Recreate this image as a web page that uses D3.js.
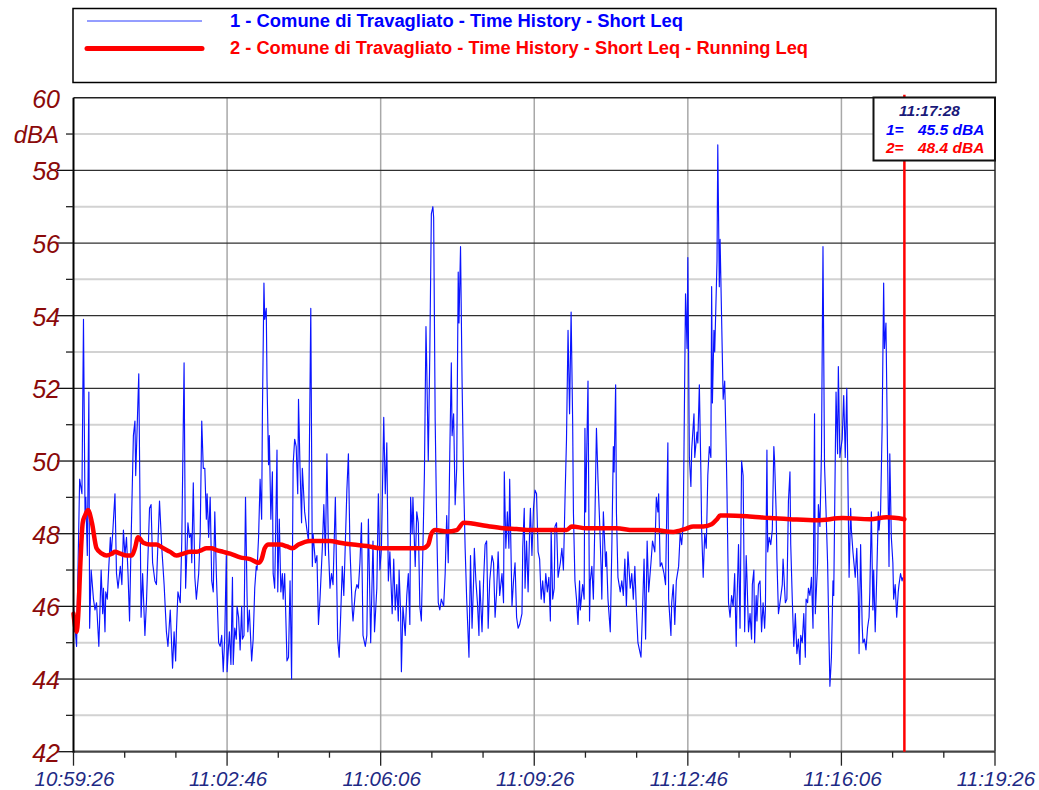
<!DOCTYPE html>
<html><head><meta charset="utf-8">
<script src="https://cdn.jsdelivr.net/npm/d3@7"></script>
<style>body{margin:0;background:#fff;} svg{display:block;}</style>
</head><body>
<script>
// ---------- DATA ----------
const xTickLabels = ["10:59:26","11:02:46","11:06:06","11:09:26","11:12:46","11:16:06","11:19:26"];
const xTickSeconds = [0,200,400,600,800,1000,1200];
const yTickValues = [42,44,46,48,50,52,54,56,58,60];
const yUnit = "dBA";
const seriesNames = [
  "1 - Comune di Travagliato  - Time History - Short Leq",
  "2 - Comune di Travagliato  - Time History - Short Leq - Running Leq"
];
const cursorLabel = "11:17:28";
const cursorSeconds = 1082;
const cursorValues = ["45.5 dBA","48.4 dBA"];

// [seconds since 10:59:26, dBA]
const shortLeq = [
[0,46.0],[4,44.9],[8,49.5],[11,49.1],[13,53.9],[15,48.6],[16,49.0],[18,47.4],[20,51.9],[21,45.4],[23,47.0],[26,46.2],[28,45.9],[30,46.1],[33,44.9],[36,47.0],[38,45.8],[39,46.5],[41,45.3],[42,46.4],[44,46.2],[46,47.1],[48,47.9],[49,47.4],[51,48.0],[54,49.1],[56,46.9],[58,46.5],[61,47.1],[63,46.6],[65,48.1],[67,47.4],[69,47.9],[71,46.9],[73,45.6],[75,47.8],[78,50.7],[80,51.1],[81,49.6],[85,52.4],[88,45.7],[90,46.9],[93,45.2],[95,46.1],[99,48.7],[101,48.8],[103,47.2],[106,46.7],[108,46.6],[112,48.9],[115,47.6],[118,46.6],[121,45.3],[123,44.9],[126,45.9],[129,44.3],[131,45.3],[133,44.5],[134,45.3],[136,46.4],[139,46.1],[141,47.8],[144,52.7],[146,46.5],[149,48.3],[151,47.9],[153,48.0],[154,47.2],[156,49.4],[158,46.8],[160,46.2],[163,46.9],[165,48.0],[167,51.1],[169,49.8],[171,49.8],[173,48.4],[174,49.1],[176,47.9],[178,49.0],[180,46.7],[182,46.4],[184,48.6],[186,46.9],[189,45.0],[191,44.9],[193,45.2],[195,44.2],[197,45.2],[199,47.4],[200,44.2],[203,45.3],
[205,44.4],[207,46.8],[208,44.4],[210,45.4],[212,45.1],[213,46.0],[215,45.7],[217,44.8],[219,46.0],[220,45.1],[222,45.2],[224,49.0],[226,46.3],[227,45.3],[229,45.9],[232,44.5],[234,45.1],[236,46.5],[238,47.1],[239,47.0],[241,47.9],[243,49.5],[245,48.4],[246,51.3],[248,54.9],[249,53.9],[251,54.2],[252,52.2],[254,49.9],[255,50.7],[257,48.4],[259,49.7],[260,46.9],[262,46.5],[265,50.3],[266,46.4],[268,48.4],[270,46.4],[272,46.9],[273,46.2],[275,46.9],[278,44.5],[280,44.6],[282,46.7],[284,44.0],[286,49.9],[288,50.6],[290,50.4],[292,49.1],[293,51.7],[295,49.8],[297,48.3],[298,49.8],[301,48.6],[304,48.1],[306,47.8],[309,54.2],[311,47.1],[312,48.0],[315,47.2],[317,47.4],[319,45.5],[321,46.2],[324,47.6],[326,48.8],[328,47.4],[330,50.2],[332,47.6],[334,46.5],[336,46.9],[338,46.6],[341,49.0],[344,45.1],[346,44.6],[348,45.8],[350,47.1],[352,46.3],[356,49.2],[358,50.2],[360,47.6],[363,45.9],[364,45.6],[367,46.4],[369,46.6],[371,46.5],[373,47.2],[375,48.3],[377,45.2],[380,44.9],[382,45.2],[384,48.4],[387,45.0],[390,47.8],[392,45.3],[395,46.5],[397,49.1],[399,47.0],
[401,47.6],[404,51.2],[406,49.1],[408,50.5],[410,46.7],[412,47.5],[415,45.8],[417,47.3],[419,45.9],[421,46.6],[423,45.6],[424,47.0],[426,45.8],[427,44.2],[429,46.0],[432,45.2],[434,46.3],[436,46.9],[438,45.5],[439,49.0],[441,48.0],[442,49.0],[445,47.1],[447,48.6],[449,48.3],[451,46.0],[453,45.6],[455,47.6],[457,49.7],[459,53.7],[460,52.6],[462,50.0],[464,53.0],[466,56.8],[468,57.0],[469,56.7],[471,51.1],[473,48.2],[475,46.1],[477,45.9],[479,46.2],[482,46.0],[484,46.9],[486,48.5],[488,47.2],[490,50.2],[492,52.7],[493,50.7],[495,51.3],[497,48.8],[499,49.8],[501,55.2],[502,53.8],[504,55.9],[506,52.2],[508,49.5],[510,47.6],[512,46.2],[515,44.6],[517,47.4],[519,45.4],[521,46.7],[522,47.6],[524,46.7],[526,46.1],[528,45.2],[529,46.7],[532,45.3],[534,46.7],[536,47.7],[538,47.8],[540,45.4],[542,46.7],[545,47.4],[547,47.2],[549,45.7],[551,46.4],[553,47.5],[555,46.3],[558,46.9],[560,46.1],[561,49.7],[563,47.6],[565,48.6],[567,47.6],[568,49.5],[571,46.0],[573,46.7],[575,47.2],[577,45.7],[579,45.4],
[581,45.5],[584,45.8],[585,47.6],[587,48.7],[588,46.5],[590,47.8],[592,46.4],[594,48.1],[595,48.7],[597,47.4],[599,48.7],[601,49.2],[603,49.1],[605,47.5],[607,47.3],[609,46.2],[611,46.7],[613,46.1],[615,46.9],[617,46.4],[619,46.8],[621,45.6],[622,48.1],[624,46.2],[626,46.5],[627,48.2],[629,48.3],[631,46.8],[634,47.2],[636,47.6],[638,47.0],[640,48.9],[642,50.6],[644,53.6],[646,51.3],[648,54.1],[650,51.1],[651,48.6],[653,46.7],[655,46.2],[657,45.5],[659,46.7],[660,45.9],[663,46.6],[665,46.2],[666,50.9],[667,48.6],[670,52.2],[672,45.6],[673,46.7],[675,47.1],[677,46.2],[679,48.4],[681,50.9],[683,49.5],[685,48.4],[687,47.1],[688,46.2],[690,48.6],[693,47.1],[694,47.5],[696,46.2],[699,45.3],[701,47.6],[703,50.4],[704,49.7],[706,52.1],[707,48.6],[709,46.8],[712,46.4],[714,46.7],[716,46.3],[718,47.3],[720,46.0],[722,47.5],[725,46.5],[727,46.9],[729,46.2],[731,47.1],[733,45.9],[735,45.0],[739,44.6],[741,45.9],[743,47.3],[745,45.1],[747,47.8],[749,46.4],[752,47.2],[754,47.8],[757,47.5],[759,49.0],[761,48.6],[762,49.1],[764,47.1],[766,47.2],[769,46.9],[771,46.6],[774,50.5],[775,46.2],[778,45.2],
[779,46.1],[781,46.6],[783,45.5],[785,46.7],[788,47.1],[790,48.0],[792,47.7],[794,48.3],[795,50.3],[797,54.6],[799,53.1],[800,55.6],[802,50.1],[804,49.3],[805,50.3],[808,51.3],[809,50.1],[812,50.8],[813,50.5],[815,52.1],[817,49.7],[818,48.1],[820,46.8],[822,48.0],[824,47.6],[826,49.6],[828,50.4],[830,50.1],[831,54.8],[832,51.6],[834,53.6],[835,53.0],[838,55.5],[839,58.7],[841,54.8],[842,56.1],[844,53.9],[846,51.7],[848,52.2],[850,50.3],[851,49.1],[853,46.1],[855,45.7],[857,46.3],[859,46.0],[861,46.9],[863,44.9],[864,46.1],[866,47.7],[868,45.4],[870,50.0],[872,49.6],[874,45.3],[876,47.4],[877,46.8],[879,45.3],[881,45.8],[883,45.1],[884,46.6],[886,47.0],[887,45.0],[889,46.3],[890,45.6],[892,46.6],[894,46.7],[896,45.3],[898,46.1],[900,45.4],[901,45.9],[903,50.3],[904,47.5],[906,47.9],[908,47.7],[910,48.1],[912,50.4],[913,50.0],[915,48.6],[916,47.3],[918,45.8],[920,46.1],[923,46.6],[924,47.3],[927,46.1],[929,46.2],[931,48.9],[933,49.7],[934,47.7],[936,46.2],[938,44.9],[940,45.8],[942,44.7],[944,45.1],[946,44.4],[947,45.2],[949,45.0],[951,45.8],[953,44.6],[954,46.2],[956,46.1],[957,46.5],[959,46.3],[961,46.8],
[963,45.4],[965,51.3],[966,45.8],[969,47.2],[970,48.8],[972,48.2],[974,50.2],[976,55.9],[978,49.9],[980,48.6],[982,47.2],[984,44.9],[985,43.8],[987,44.6],[989,46.7],[990,46.3],[992,50.1],[993,51.9],[995,50.2],[996,52.6],[998,50.1],[999,50.3],[1001,50.6],[1003,51.8],[1005,50.1],[1007,52.0],[1009,48.5],[1010,46.8],[1012,48.7],[1013,48.1],[1015,47.5],[1018,46.8],[1020,47.6],[1022,46.3],[1023,44.7],[1025,47.7],[1027,45.5],[1028,45.0],[1030,45.1],[1032,44.8],[1034,45.4],[1036,45.7],[1037,46.4],[1039,48.6],[1041,45.9],[1042,47.0],[1044,45.3],[1046,46.8],[1048,48.6],[1049,48.1],[1051,48.6],[1053,50.9],[1055,54.9],[1056,53.1],[1058,53.8],[1060,50.3],[1062,47.1],[1063,50.2],[1065,47.9],[1067,47.2],[1068,46.2],[1070,46.6],[1072,45.7],[1074,46.4],[1075,46.6],[1077,46.9],[1079,46.7],[1080,46.8]
];

const runningLeq = [
[0,45.8],[4,45.3],[6,45.7],[9,47.2],[12,48.3],[15,48.5],[19,48.65],[24,48.3],[30,47.6],[37,47.45],[43,47.4],[50,47.45],[54,47.5],[61,47.45],[69,47.4],[76,47.4],[80,47.6],[84,47.9],[91,47.75],[100,47.7],[108,47.7],[117,47.6],[126,47.5],[134,47.4],[143,47.45],[152,47.5],[160,47.5],[167,47.55],[173,47.6],[180,47.6],[186,47.55],[195,47.5],[204,47.45],[217,47.35],[230,47.3],[241,47.2],[245,47.3],[249,47.6],[254,47.7],[269,47.7],[278,47.65],[285,47.6],[293,47.7],[308,47.8],[321,47.8],[334,47.8],[347,47.75],[364,47.7],[382,47.66],[399,47.6],[421,47.6],[434,47.6],[455,47.6],[462,47.7],[466,48.0],[471,48.1],[486,48.06],[499,48.1],[508,48.3],[525,48.26],[542,48.2],[560,48.15],[577,48.13],[595,48.1],[634,48.1],[642,48.1],[649,48.2],[668,48.15],[707,48.15],[729,48.1],[755,48.1],[781,48.05],[798,48.14],[807,48.2],[820,48.2],[831,48.26],[838,48.4],[842,48.5],[851,48.5],[877,48.48],[907,48.43],[933,48.4],[968,48.37],[1002,48.43],[1037,48.4],[1059,48.45],[1082,48.4]
];

// ---------- LAYOUT ----------
const W = 1039, H = 790;
const plot = {left: 73.5, right: 995, top: 97.7, bottom: 751.7};
const svg = d3.select("body").append("svg").attr("width", W).attr("height", H)
  .style("font-family", "'Liberation Sans', Arial, sans-serif");

const x = d3.scaleLinear().domain([0, 1200]).range([plot.left, plot.right]);
const y = d3.scaleLinear().domain([42, 60]).range([plot.bottom, plot.top]);

// Legend box
svg.append("rect").attr("x", 73).attr("y", 8.5).attr("width", 923).attr("height", 74)
  .attr("fill", "#fff").attr("stroke", "#000").attr("stroke-width", 1.5);
const legendColors = ["#0000ff", "#ff0000"];
const legendWidths = [1, 5];
const legendY = [21, 48.5];
const legendTextLen = [453, 578];
seriesNames.forEach((name, i) => {
  svg.append("line").attr("x1", 87).attr("x2", 202).attr("y1", legendY[i]).attr("y2", legendY[i])
    .attr("stroke", i ? "#ff0000" : "#2a3cff").attr("stroke-width", legendWidths[i]).attr("stroke-linecap", i ? "round" : "butt");
  svg.append("text").attr("x", 230).attr("y", legendY[i] + (i ? 5.5 : 6))
    .attr("fill", legendColors[i]).attr("font-weight", "bold").attr("font-size", 17.5)
    .style("font-family", "'Liberation Sans Narrow', 'Liberation Sans', Arial, sans-serif")
    .attr("textLength", legendTextLen[i]).attr("lengthAdjust", "spacingAndGlyphs")
    .text(name);
});

// Gridlines
const g = svg.append("g");
const minorY = d3.range(43, 60, 2);
g.selectAll(".gmin").data(minorY).enter().append("line")
  .attr("x1", plot.left).attr("x2", plot.right).attr("y1", d => y(d)).attr("y2", d => y(d))
  .attr("stroke", "#d2d2d2").attr("stroke-width", 2);
g.selectAll(".gv").data(xTickSeconds.slice(1, -1)).enter().append("line")
  .attr("x1", d => x(d)).attr("x2", d => x(d)).attr("y1", plot.top).attr("y2", plot.bottom)
  .attr("stroke", "#a8a8a8").attr("stroke-width", 1.5);
g.selectAll(".gmaj").data(yTickValues.slice(1, -1)).enter().append("line")
  .attr("x1", plot.left).attr("x2", plot.right).attr("y1", d => y(d)).attr("y2", d => y(d))
  .attr("stroke", "#303030").attr("stroke-width", 1.3);

// Clip
svg.append("clipPath").attr("id", "clip").append("rect")
  .attr("x", plot.left).attr("y", plot.top).attr("width", plot.right - plot.left).attr("height", plot.bottom - plot.top);

// Series
const lineBlue = d3.line().x(d => x(d[0])).y(d => y(d[1]));
svg.append("path").datum(shortLeq).attr("clip-path", "url(#clip)")
  .attr("d", lineBlue).attr("fill", "none").attr("stroke", "#0a14ff").attr("stroke-width", 1.15)
  .attr("stroke-linejoin", "round");
const lineRed = d3.line().x(d => x(d[0])).y(d => y(d[1])).curve(d3.curveMonotoneX);
svg.append("path").datum(runningLeq)
  .attr("d", lineRed).attr("fill", "none").attr("stroke", "#ff0000").attr("stroke-width", 4.5)
  .attr("stroke-linejoin", "round").attr("stroke-linecap", "round");

// Frame
svg.append("line").attr("x1", plot.left).attr("x2", plot.right).attr("y1", plot.top).attr("y2", plot.top)
  .attr("stroke", "#222").attr("stroke-width", 1.5);
svg.append("line").attr("x1", plot.right).attr("x2", plot.right).attr("y1", plot.top).attr("y2", plot.bottom)
  .attr("stroke", "#222").attr("stroke-width", 1.5);
svg.append("line").attr("x1", plot.left).attr("x2", plot.right).attr("y1", plot.bottom).attr("y2", plot.bottom)
  .attr("stroke", "#444").attr("stroke-width", 2.2);
svg.append("line").attr("x1", plot.left).attr("x2", plot.left).attr("y1", plot.top).attr("y2", plot.bottom + 1)
  .attr("stroke", "#000").attr("stroke-width", 2);

// Y ticks + labels
const yLabelColor = "#8b0a0a";
svg.selectAll(".ytmaj").data(yTickValues.slice(0, -1)).enter().append("line")
  .attr("x1", 57).attr("x2", plot.left).attr("y1", d => y(d)).attr("y2", d => y(d))
  .attr("stroke", "#111").attr("stroke-width", 1.3);
svg.selectAll(".ytmin").data(minorY).enter().append("line")
  .attr("x1", 66).attr("x2", plot.left).attr("y1", d => y(d)).attr("y2", d => y(d))
  .attr("stroke", "#222").attr("stroke-width", 1.3);
svg.selectAll(".ylab").data(yTickValues).enter().append("text")
  .attr("x", 60).attr("y", d => y(d) + 1).attr("text-anchor", "end").attr("dominant-baseline", "central")
  .attr("font-style", "italic").attr("font-size", 25).attr("fill", yLabelColor).text(d => d);
svg.append("text").attr("x", 59).attr("y", y(59)).attr("text-anchor", "end").attr("dominant-baseline", "central")
  .attr("font-style", "italic").attr("font-size", 24).attr("fill", yLabelColor).text(yUnit);

// X ticks + labels
const minorX = d3.range(0, 1200, 200 / 3).filter((d, i) => i % 3 !== 0);
svg.selectAll(".xtmin").data(minorX).enter().append("line")
  .attr("x1", d => x(d)).attr("x2", d => x(d)).attr("y1", plot.bottom).attr("y2", plot.bottom + 6)
  .attr("stroke", "#222").attr("stroke-width", 1.3);
svg.selectAll(".xtmaj").data(xTickSeconds).enter().append("line")
  .attr("x1", d => x(d)).attr("x2", d => x(d)).attr("y1", plot.bottom).attr("y2", plot.bottom + 14)
  .attr("stroke", "#222").attr("stroke-width", 1.3);
svg.selectAll(".xlab").data(xTickSeconds).enter().append("text")
  .attr("x", d => x(d) + 1).attr("y", 786).attr("text-anchor", "middle")
  .attr("font-style", "italic").attr("font-size", 20.5).attr("fill", "#1e2a85")
  .text((d, i) => xTickLabels[i]);

// Cursor
svg.append("line").attr("x1", x(cursorSeconds)).attr("x2", x(cursorSeconds))
  .attr("y1", plot.top - 3).attr("y2", plot.bottom).attr("stroke", "#ff0000").attr("stroke-width", 2.5);
svg.append("rect").attr("x", 873.5).attr("y", 97.5).attr("width", 121.5).attr("height", 63)
  .attr("fill", "#fff").attr("stroke", "#111").attr("stroke-width", 2);
svg.append("text").attr("x", 929.5).attr("y", 116).attr("text-anchor", "middle")
  .attr("font-style", "italic").attr("font-weight", "bold").attr("font-size", 15.5).attr("fill", "#1a1a7a")
  .text(cursorLabel);
cursorValues.forEach((v, i) => {
  const yy = 134.5 + i * 18.5;
  svg.append("text").attr("x", 886).attr("y", yy).attr("font-style", "italic").attr("font-weight", "bold")
    .attr("font-size", 15.5).attr("fill", legendColors[i]).text((i + 1) + "=");
  svg.append("text").attr("x", 918).attr("y", yy).attr("font-style", "italic").attr("font-weight", "bold")
    .attr("font-size", 15.5).attr("fill", legendColors[i]).text(v);
});
</script>
</body></html>
